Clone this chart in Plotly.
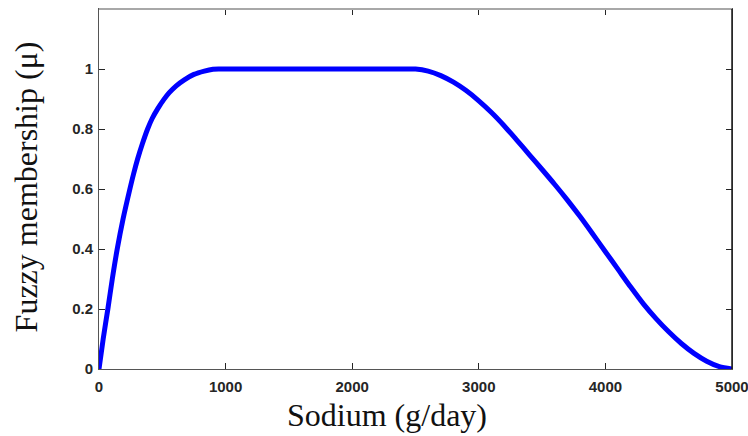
import plotly.graph_objects as go

# Membership curve for daily sodium intake
sodium = [0, 33, 70, 105, 144, 190, 244, 273, 305, 342, 384, 420, 463, 510, 555,
          610, 674, 750, 832, 900, 950,
          1000, 1200, 1400, 1600, 1800, 2000, 2200, 2400, 2500,
          2600, 2700, 2800, 2900, 3000, 3100, 3200, 3300, 3400, 3500, 3600,
          3700, 3800, 3900, 4000, 4100, 4200, 4300, 4400, 4500, 4600, 4700,
          4800, 4900, 5000]
membership = [0.0, 0.10, 0.20, 0.30, 0.40, 0.50, 0.60, 0.65, 0.70, 0.75, 0.80, 0.835, 0.867, 0.897, 0.921,
              0.944, 0.964, 0.982, 0.993, 0.999, 1.0,
              1.0, 1.0, 1.0, 1.0, 1.0, 1.0, 1.0, 1.0, 1.0,
              0.993, 0.978, 0.956, 0.928, 0.894, 0.855, 0.811, 0.763, 0.714, 0.665, 0.615,
              0.563, 0.508, 0.450, 0.391, 0.332, 0.273, 0.217, 0.168, 0.124, 0.085, 0.052,
              0.026, 0.008, 0.0]

x_ticks = [0, 1000, 2000, 3000, 4000, 5000]
y_ticks = [0, 0.2, 0.4, 0.6, 0.8, 1]
y_tick_text = ["0", "0.2", "0.4", "0.6", "0.8", "1"]

fig = go.Figure()
fig.add_trace(go.Scatter(
    x=sodium, y=membership, mode="lines",
    line=dict(color="#0000ff", width=5, shape="spline", smoothing=0.8),
    hoverinfo="skip", showlegend=False,
))

tick_font = dict(family="Liberation Sans, Arial, sans-serif", size=15,
                 color="#262626", weight="bold")
common = dict(showgrid=False, zeroline=False, ticks="inside", ticklen=6,
              tickwidth=1, tickcolor="#262626", showline=True, linewidth=1,
              linecolor="#555555", mirror="ticks", tickfont=tick_font,
              automargin=False, ticklabeloverflow="allow")

fig.update_xaxes(range=[0, 5000], tickvals=x_ticks,
                 ticktext=[str(v) for v in x_ticks], ticklabelstandoff=4, **common)
fig.update_yaxes(range=[0, 1.2], tickvals=y_ticks, ticktext=y_tick_text,
                 ticklabelstandoff=2, **common)

# box edges: light top, dark right
fig.add_shape(type="line", xref="paper", yref="paper", x0=0, x1=1, y0=1, y1=1,
              line=dict(color="#a8a8a8", width=2))
fig.add_shape(type="line", xref="paper", yref="paper", x0=1, x1=1, y0=0, y1=1,
              line=dict(color="#1a1a1a", width=1.5))

title_font = dict(family="Liberation Serif, Times New Roman, serif", size=32, color="#111111")
fig.add_annotation(text="Sodium (g/day)", xref="paper", yref="paper",
                   x=0.455, y=-0.127, xanchor="center", yanchor="middle",
                   showarrow=False, font=title_font)
fig.add_annotation(text="Fuzzy membership (μ)", xref="paper", yref="paper",
                   x=-0.115, y=0.505, xanchor="center", yanchor="middle",
                   textangle=-90, showarrow=False, font=title_font)

fig.update_layout(
    width=748, height=436,
    margin=dict(l=99, r=16, t=9, b=67),
    paper_bgcolor="white", plot_bgcolor="white",
)

fig.write_html("out.html")
